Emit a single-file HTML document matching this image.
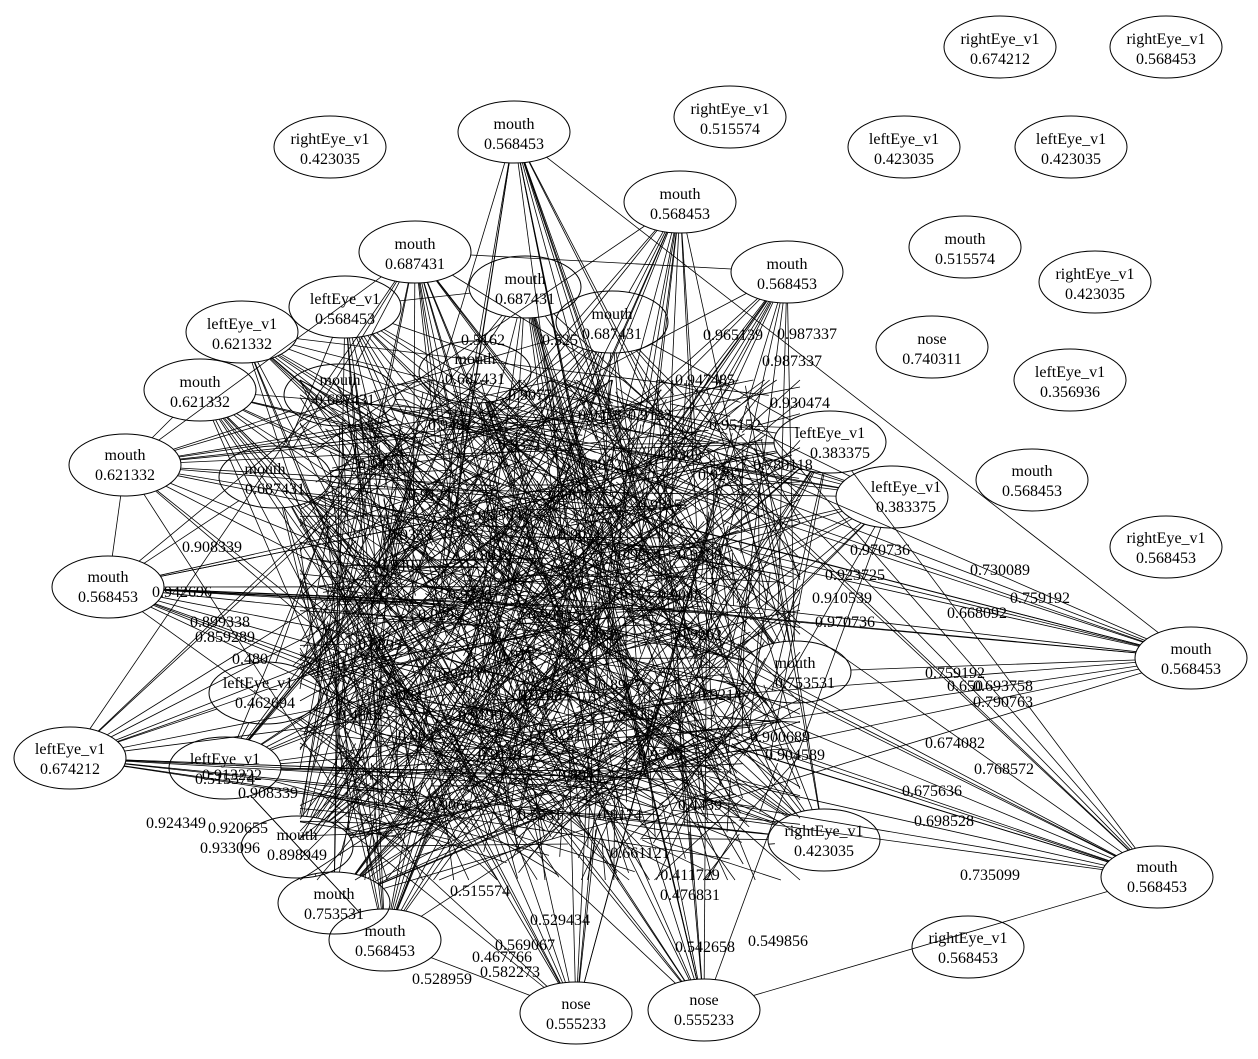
<!DOCTYPE html>
<html><head><meta charset="utf-8"><style>
html,body{margin:0;padding:0;background:#fff;}
svg{display:block;}
text{font-family:"Liberation Serif",serif;font-size:16px;fill:#000;text-anchor:middle;}
</style></head><body>
<svg id="s" width="1258" height="1059" viewBox="0 0 1258 1059" xmlns="http://www.w3.org/2000/svg">
<g id="edges" stroke="#000" stroke-width="0.8" fill="none"></g>
<g id="nodes" fill="none" stroke="#000" stroke-width="1"></g>
<g id="elabels">
<text x="1000" y="575">0.730089</text>
<text x="1040" y="603">0.759192</text>
<text x="977" y="618">0.668092</text>
<text x="955" y="678">0.759192</text>
<text x="965" y="691">0.650</text><text x="1003" y="691">0.693758</text>
<text x="1003" y="707">0.790763</text>
<text x="955" y="748">0.674082</text>
<text x="1004" y="774">0.768572</text>
<text x="932" y="796">0.675636</text>
<text x="944" y="826">0.698528</text>
<text x="990" y="880">0.735099</text>
<text x="705" y="952">0.542658</text>
<text x="778" y="946">0.549856</text>
<text x="442" y="984">0.528959</text>
<text x="510" y="977">0.582273</text>
<text x="502" y="962">0.467766</text>
<text x="525" y="950">0.569067</text>
<text x="176" y="828">0.924349</text>
<text x="238" y="833">0.920655</text>
<text x="230" y="853">0.933096</text>
<text x="733" y="340">0.965139</text>
<text x="807" y="339">0.987337</text>
<text x="792" y="366">0.987337</text>
<text x="800" y="408">0.930474</text>
<text x="845" y="627">0.970736</text>
<text x="842" y="603">0.910539</text>
<text x="212" y="552">0.908339</text>
<text x="182" y="597">0.942696</text>
<text x="220" y="627">0.899338</text>
<text x="225" y="642">0.859289</text>
<text x="250" y="664">0.480</text>
<text x="232" y="780">0.913222</text>
<text x="268" y="798">0.908339</text>
<text x="690" y="900">0.476831</text>
<text x="690" y="880">0.411729</text>
<text x="560" y="925">0.529434</text>
<text x="483" y="345">0.5162</text><text x="560" y="345">0.525</text>
<text x="705" y="385">0.947485</text>
<text x="735" y="430">0.95152</text>
<text x="783" y="470">0.780118</text>
<text x="795" y="760">0.904589</text>
<text x="780" y="742">0.900689</text>
<text x="640" y="858">0.661121</text>
<text x="480" y="896">0.515574</text>
<text x="880" y="555">0.970736</text>
<text x="855" y="580">0.923725</text>
<text x="450" y="430">0.9482</text><text x="520" y="450">0.9371</text><text x="600" y="470">0.8852</text>
<text x="430" y="500">0.9127</text><text x="500" y="520">0.8964</text><text x="580" y="540">0.9021</text>
<text x="660" y="510">0.9315</text><text x="700" y="560">0.9188</text><text x="400" y="570">0.9402</text>
<text x="470" y="600">0.9276</text><text x="550" y="620">0.9093</text><text x="630" y="600">0.9157</text>
<text x="380" y="650">0.8895</text><text x="460" y="680">0.9341</text><text x="540" y="700">0.9208</text>
<text x="620" y="690">0.8977</text><text x="700" y="640">0.9262</text><text x="420" y="740">0.9033</text>
<text x="500" y="760">0.9119</text><text x="580" y="780">0.8941</text><text x="660" y="760">0.9385</text>
<text x="720" y="700">0.9214</text><text x="450" y="810">0.9066</text><text x="540" y="820">0.5531</text>
<text x="620" y="820">0.9174</text><text x="700" y="810">0.4439</text><text x="360" y="720">0.4818</text>
<text x="380" y="470">0.9451</text><text x="650" y="420">0.9123</text><text x="720" y="480">0.9287</text>
<text x="410" y="540">0.9355</text><text x="490" y="560">0.9012</text><text x="570" y="500">0.8876</text>
<text x="640" y="560">0.9264</text><text x="520" y="660">0.9117</text><text x="600" y="640">0.9333</text>
<text x="680" y="600">0.9048</text><text x="440" y="620">0.9295</text><text x="400" y="700">0.9082</text>
<text x="480" y="720">0.9199</text><text x="560" y="740">0.9251</text><text x="640" y="720">0.9136</text>
<text x="600" y="420">0.9418</text><text x="530" y="400">0.9077</text><text x="680" y="460">0.9303</text>
</g>
<g id="nlabels">
<text x="1000" y="44">rightEye_v1</text><text x="1000" y="64">0.674212</text>
<text x="1166" y="44">rightEye_v1</text><text x="1166" y="64">0.568453</text>
<text x="730" y="114">rightEye_v1</text><text x="730" y="134">0.515574</text>
<text x="330" y="144">rightEye_v1</text><text x="330" y="164">0.423035</text>
<text x="514" y="129">mouth</text><text x="514" y="149">0.568453</text>
<text x="904" y="144">leftEye_v1</text><text x="904" y="164">0.423035</text>
<text x="1071" y="144">leftEye_v1</text><text x="1071" y="164">0.423035</text>
<text x="680" y="199">mouth</text><text x="680" y="219">0.568453</text>
<text x="965" y="244">mouth</text><text x="965" y="264">0.515574</text>
<text x="1095" y="279">rightEye_v1</text><text x="1095" y="299">0.423035</text>
<text x="415" y="249">mouth</text><text x="415" y="269">0.687431</text>
<text x="787" y="269">mouth</text><text x="787" y="289">0.568453</text>
<text x="525" y="284">mouth</text><text x="525" y="304">0.687431</text>
<text x="345" y="304">leftEye_v1</text><text x="345" y="324">0.568453</text>
<text x="612" y="319">mouth</text><text x="612" y="339">0.687431</text>
<text x="242" y="329">leftEye_v1</text><text x="242" y="349">0.621332</text>
<text x="932" y="344">nose</text><text x="932" y="364">0.740311</text>
<text x="1070" y="377">leftEye_v1</text><text x="1070" y="397">0.356936</text>
<text x="200" y="387">mouth</text><text x="200" y="407">0.621332</text>
<text x="340" y="385">mouth</text><text x="345" y="405">0.687431</text>
<text x="475" y="364">mouth</text><text x="475" y="384">0.687431</text>
<text x="830" y="438">leftEye_v1</text><text x="840" y="458">0.383375</text>
<text x="125" y="460">mouth</text><text x="125" y="480">0.621332</text>
<text x="265" y="474">mouth</text><text x="275" y="494">0.687431</text>
<text x="1032" y="476">mouth</text><text x="1032" y="496">0.568453</text>
<text x="906" y="492">leftEye_v1</text><text x="906" y="512">0.383375</text>
<text x="1166" y="543">rightEye_v1</text><text x="1166" y="563">0.568453</text>
<text x="108" y="582">mouth</text><text x="108" y="602">0.568453</text>
<text x="1191" y="654">mouth</text><text x="1191" y="674">0.568453</text>
<text x="795" y="668">mouth</text><text x="805" y="688">0.753531</text>
<text x="258" y="688">leftEye_v1</text><text x="265" y="708">0.462694</text>
<text x="70" y="754">leftEye_v1</text><text x="70" y="774">0.674212</text>
<text x="225" y="764">leftEye_v1</text><text x="225" y="784">0.515574</text>
<text x="824" y="836">rightEye_v1</text><text x="824" y="856">0.423035</text>
<text x="1157" y="872">mouth</text><text x="1157" y="892">0.568453</text>
<text x="297" y="840">mouth</text><text x="297" y="860">0.898949</text>
<text x="334" y="899">mouth</text><text x="334" y="919">0.753531</text>
<text x="385" y="936">mouth</text><text x="385" y="956">0.568453</text>
<text x="968" y="943">rightEye_v1</text><text x="968" y="963">0.568453</text>
<text x="576" y="1009">nose</text><text x="576" y="1029">0.555233</text>
<text x="704" y="1005">nose</text><text x="704" y="1025">0.555233</text>
</g>
</svg>
<script>
(function(){
var N=[[1000,47,1],[1166,47,1],[730,117,1],[330,147,1],[514,132,0],[904,147,1],[1071,147,1],[680,202,0],[965,247,1],[1095,282,1],[415,252,0],[787,272,0],[525,287,0],[345,307,0],[612,322,0],[242,332,0],[932,347,1],[1070,380,1],[200,390,0],[340,395,0],[475,372,0],[830,442,0],[125,465,0],[275,477,0],[1032,480,1],[892,497,0],[1166,547,1],[108,587,0],[1191,658,0],[795,672,0],[265,693,0],[70,758,0],[225,768,0],[824,840,0],[1157,877,0],[297,847,0],[334,903,0],[385,940,0],[968,947,1],[576,1013,0],[704,1010,0]];
var ng=document.getElementById('nodes'),eg=document.getElementById('edges');
var NS='http://www.w3.org/2000/svg';
var RX=56,RY=31;
var seed=12345;function r(){seed=(seed*1103515245+12345)&0x7fffffff;return seed/0x7fffffff;}
function line(a,b,c,d){var l=document.createElementNS(NS,'line');l.setAttribute('x1',a.toFixed(1));l.setAttribute('y1',b.toFixed(1));l.setAttribute('x2',c.toFixed(1));l.setAttribute('y2',d.toFixed(1));eg.appendChild(l);}
function bnd(n,tx,ty){var dx=tx-n[0],dy=ty-n[1];var t=1/Math.sqrt(dx*dx/(RX*RX)+dy*dy/(RY*RY)+1e-9);return [n[0]+dx*t,n[1]+dy*t];}
var conn=N.filter(function(n){return !n[2];});
conn.forEach(function(n){
 for(var i=0;i<14;i++){var x=320+r()*460,y=380+r()*480;var p=bnd(n,x,y);line(p[0],p[1],x,y);}
});
for(var i=0;i<900;i++){
 var x=320+r()*440,y=400+r()*440;var a=r()*6.28,L=30+r()*160;
 var x2=Math.min(800,Math.max(300,x+Math.cos(a)*L)),y2=Math.min(880,Math.max(380,y+Math.sin(a)*L));
 line(x,y,x2,y2);
}
for(var i=0;i<conn.length;i++)for(var j=0;j<2;j++){var m=conn[Math.floor(r()*conn.length)];if(m===conn[i])continue;var p=bnd(conn[i],m[0],m[1]),q=bnd(m,conn[i][0],conn[i][1]);line(p[0],p[1],q[0],q[1]);}
N.forEach(function(n){var e=document.createElementNS(NS,'ellipse');e.setAttribute('cx',n[0]);e.setAttribute('cy',n[1]);e.setAttribute('rx',RX);e.setAttribute('ry',RY);ng.appendChild(e);});
})();
</script>
</body></html>
